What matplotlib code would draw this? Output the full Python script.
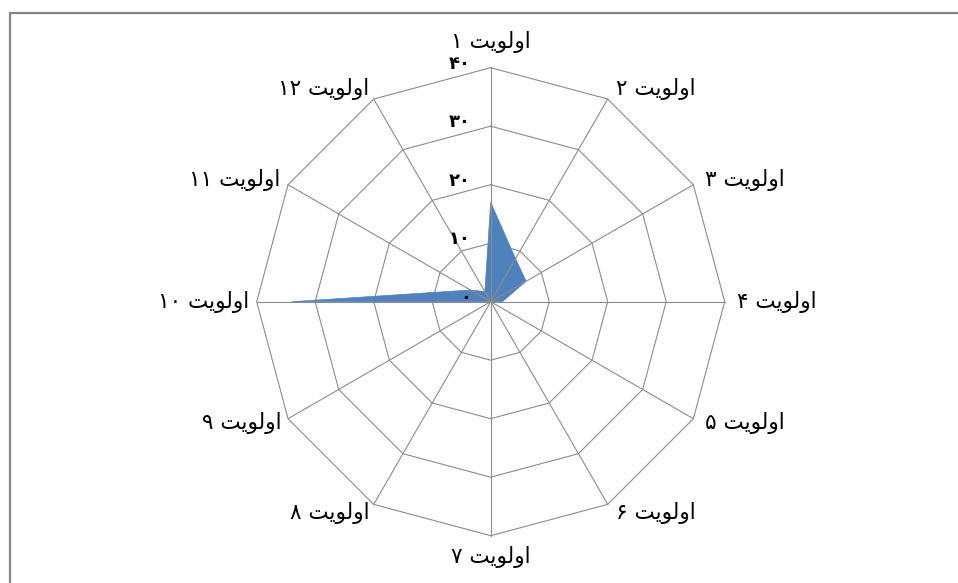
import numpy as np
import matplotlib
matplotlib.use("Agg")
import matplotlib.pyplot as plt
from matplotlib.patches import Rectangle

# ---- data ----
categories = ['اولویت ۱', 'اولویت ۲', 'اولویت ۳', 'اولویت ۴', 'اولویت ۵', 'اولویت ۶',
              'اولویت ۷', 'اولویت ۸', 'اولویت ۹', 'اولویت ۱۰', 'اولویت ۱۱', 'اولویت ۱۲']
values = [17, 8.5, 7, 2, 0, 0, 0, 0, 0, 34, 4, 2]
r_ticks = [0, 10, 20, 30, 40]
r_tick_labels = ['۰', '۱۰', '۲۰', '۳۰', '۴۰']

# ---- minimal Arabic-script shaping for display (matplotlib has no bidi/shaping) ----
FORMS = {  # isolated, final, initial, medial
    'ا': ('\uFE8D', '\uFE8E', None, None),
    'و': ('\uFEED', '\uFEEE', None, None),
    'ل': ('\uFEDD', '\uFEDE', '\uFEDF', '\uFEE0'),
    'ی': ('\uFBFC', '\uFBFD', '\uFBFE', '\uFBFF'),
    'ت': ('\uFE95', '\uFE96', '\uFE97', '\uFE98'),
}


def shape_word(word):
    out = []
    for i, ch in enumerate(word):
        f = FORMS.get(ch)
        if f is None:
            out.append(ch)
            continue
        prev = word[i - 1] if i > 0 else None
        nxt = word[i + 1] if i + 1 < len(word) else None
        jp = prev in FORMS and FORMS[prev][2] is not None
        jn = nxt in FORMS and f[2] is not None
        if jp and jn:
            out.append(f[3])
        elif jp:
            out.append(f[1])
        elif jn:
            out.append(f[2])
        else:
            out.append(f[0])
    return ''.join(reversed(out))


def visual(label):
    word, num = label.split(' ')
    return num + ' ' + shape_word(word)


# ---- figure ----
W, H = 958, 583
fig = plt.figure(figsize=(W / 100, H / 100), dpi=100)
fig.patch.set_facecolor('white')

# outer chart frame (right/bottom edges lie outside the image)
fig.add_artist(Rectangle((10 / W, -0.05), 1.1, 1 - 13 / H + 0.05, transform=fig.transFigure,
                         fill=False, edgecolor='#868686', linewidth=1.6))

cx, cy, R = 490.7, 301.7, 234.0
ax = fig.add_axes([(cx - R) / W, 1 - (cy + R) / H, 2 * R / W, 2 * R / H], projection='polar')
ax.set_theta_offset(np.pi / 2)
ax.set_theta_direction(-1)
ax.set_ylim(0, 40)
ax.set_axis_off()

n = len(categories)
theta = np.arange(n) * 2 * np.pi / n
theta_c = np.append(theta, theta[0])

grid_col = '#8c8c8c'
for r in r_ticks[1:]:
    ax.plot(theta_c, [r] * (n + 1), color=grid_col, linewidth=0.8, zorder=1, clip_on=False)
for t in theta:
    ax.plot([t, t], [0, r_ticks[-1]], color=grid_col, linewidth=0.8, zorder=3, clip_on=False)

vals_c = np.append(values, values[0])
ax.fill(theta_c, vals_c, color='#4f81bd', zorder=2, linewidth=0.5, edgecolor='#4f81bd')

# radial value labels
for r, lab in zip(r_ticks, r_tick_labels):
    ax.annotate(lab, xy=(0, r), xytext=(-20, 4), textcoords='offset pixels',
                ha='right', va='center', fontsize=13, fontweight='bold',
                family=['DejaVu Sans'], annotation_clip=False)

# category labels
offsets = [(0, 26, 'center'), (8, 10, 'left'), (12, 5, 'left'), (12, 0, 'left'),
           (12, -4, 'left'), (8, -9, 'left'), (0, -21, 'center'), (-4, -9, 'right'),
           (-6, -4, 'right'), (-7, 0, 'right'), (-8, 5, 'right'), (-4, 10, 'right')]
for t, lab, (dx, dy, ha) in zip(theta, categories, offsets):
    ax.annotate(visual(lab), xy=(t, r_ticks[-1]), xytext=(dx, dy), textcoords='offset pixels',
                ha=ha, va='center', fontsize=15.5, family=['DejaVu Sans'],
                annotation_clip=False)

fig.savefig('out.png', dpi=100)
